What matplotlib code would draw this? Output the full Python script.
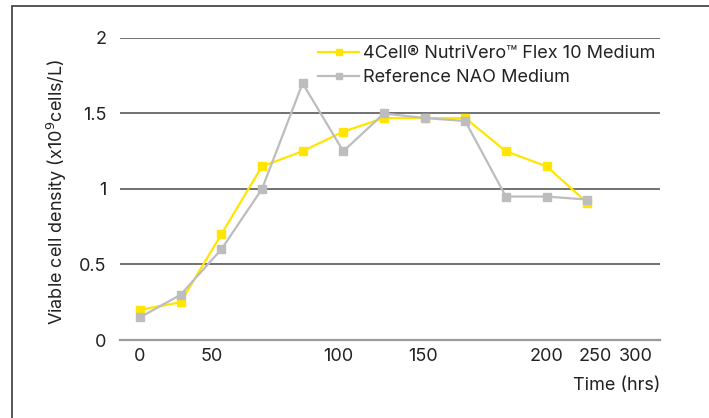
import matplotlib
matplotlib.use("Agg")
import matplotlib.pyplot as plt
from matplotlib.patches import Rectangle

plt.rcParams['font.family'] = ['Inter', 'DejaVu Sans']

# sampling times (hrs) and viable cell density (x10^9 cells/L)
time_hrs = [0, 24, 48, 72, 96, 120, 144, 168, 192, 216, 240, 264]
nutrivero = [0.20, 0.25, 0.70, 1.15, 1.25, 1.38, 1.47, 1.47, 1.47, 1.25, 1.15, 0.91]
reference = [0.15, 0.30, 0.60, 1.00, 1.70, 1.25, 1.50, 1.47, 1.45, 0.95, 0.95, 0.93]

x_tick_labels = ['0', '50', '100', '150', '200', '250', '300']
x_tick_hrs = [0, 42.5, 117, 167, 240, 269, 293]
y_ticks = [0, 0.5, 1, 1.5, 2]
y_tick_labels = ['0', '0.5', '1', '1.5', '2']

fs = 13

fig = plt.figure(figsize=(7.09, 4.18), dpi=100)
ax = fig.add_axes([0.1693, 0.1866, 0.7616, 0.7225])

# frame around the figure (only top/left visible in the reference)
fig.patches.append(Rectangle((12 / 709, -0.1), 1.2, 1.1 - 6 / 418,
                             transform=fig.transFigure, fill=False,
                             edgecolor='#3a3a3a', linewidth=1.2))

ax.plot(time_hrs, nutrivero, color='#FFE500', marker='s', markersize=5.5,
        linewidth=1.6, label='4Cell® NutriVero™ Flex 10 Medium', zorder=3)
ax.plot(time_hrs, reference, color='#BDBDBF', marker='s', markersize=5.5,
        linewidth=1.6, label='Reference NAO Medium', zorder=4)

ax.set_xlim(-11.8, 307)
ax.set_ylim(0, 2)
ax.set_yticks(y_ticks)
ax.set_yticklabels(y_tick_labels)
ax.set_xticks(x_tick_hrs)
ax.set_xticklabels(x_tick_labels)
ax.tick_params(length=0, labelsize=fs, colors='#222222')
ax.tick_params(axis='y', pad=10)
ax.tick_params(axis='x', pad=6)

for y in y_ticks[1:]:
    ax.axhline(y, color='#4a4a4a', linewidth=1.1, zorder=1)
for s in ['top', 'right', 'left']:
    ax.spines[s].set_visible(False)
ax.spines['bottom'].set_color('#9a9a9a')
ax.spines['bottom'].set_linewidth(1.6)

ax.set_ylabel('Viable cell density (x10$^{9}$cells/L)', fontsize=fs,
              color='#222222')
ax.yaxis.set_label_coords(-0.094, 0.49)
ax.text(1.0, -0.15, 'Time (hrs)', transform=ax.transAxes, ha='right',
        va='center', fontsize=fs, color='#222222')

leg = ax.legend(loc='upper right', bbox_to_anchor=(1.005, 1.0), frameon=False,
                fontsize=fs, handlelength=2.3, handletextpad=0.2,
                labelspacing=0.4, borderaxespad=0, markerscale=0.8)
for t in leg.get_texts():
    t.set_color('#222222')

fig.savefig('out.png', dpi=100)
